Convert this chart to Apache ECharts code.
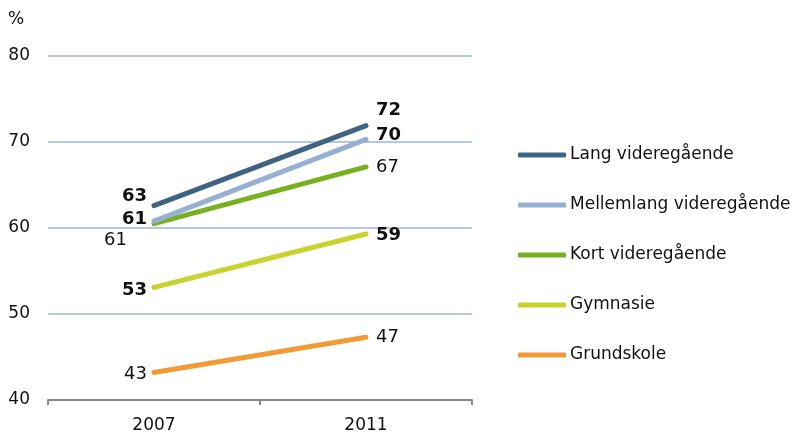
<!DOCTYPE html>
<html>
<head>
<meta charset="utf-8">
<script src="https://cdn.jsdelivr.net/npm/echarts@6/dist/echarts.min.js"></script>
<style>
  html, body { margin: 0; padding: 0; background: #fff; }
  #chart { width: 793px; height: 432px; }
</style>
</head>
<body>
<div id="chart"></div>
<script>
const years = ['2007', '2011']
const seriesNames = ['Lang videregående', 'Mellemlang videregående', 'Kort videregående', 'Gymnasie', 'Grundskole']
const lang = [62.6, 71.9]
const mellemlang = [60.8, 70.3]
const kort = [60.5, 67.1]
const gymnasie = [53.1, 59.3]
const grundskole = [43.2, 47.3]
const yTicks = [40, 50, 60, 70, 80]

const colors = ['#3f6382', '#95b0d3', '#76b21f', '#c9d32d', '#f29a35']
const bold = [true, true, false, true, false]
// label nudges so overlapping labels stay readable
const offsets = [
  [[0, -9], [0, -15]],
  [[0, -2], [0, -4]],
  [[-20, 17], [0, 0]],
  [[0, 3], [0, 1]],
  [[0, 2], [0, 0]]
]
const font = 'DejaVu Sans'

const chart = echarts.init(document.getElementById('chart'))

const allData = [lang, mellemlang, kort, gymnasie, grundskole]
const series = allData.map((vals, i) => ({
  name: seriesNames[i],
  type: 'line',
  symbol: 'circle',
  symbolSize: 2,
  showSymbol: true,
  lineStyle: { width: 5, color: colors[i], cap: 'round' },
  itemStyle: { color: colors[i] },
  z: 10 - i,
  label: { show: true },
  data: vals.map((v, j) => ({
    value: v,
    label: {
      show: true,
      position: j === 0 ? 'left' : 'right',
      distance: j === 0 ? 6 : 9,
      offset: offsets[i][j],
      formatter: p => Math.round(p.value),
      color: '#111',
      fontFamily: font,
      fontSize: 18,
      fontWeight: bold[i] ? 'bold' : 'normal'
    }
  }))
}))

chart.setOption({
  animation: false,
  color: colors,
  grid: { left: 48, right: 321, top: 56, bottom: 32, outerBoundsMode: 'none', containLabel: false },
  legend: {
    orient: 'vertical',
    left: 513,
    top: 139,
    icon: 'roundRect',
    itemWidth: 48,
    itemHeight: 5,
    itemGap: 28,
    textStyle: { fontFamily: font, fontSize: 17, color: '#111', lineHeight: 22, padding: [0, 0, 0, -1] },
    data: seriesNames
  },
  xAxis: {
    type: 'category',
    data: years,
    boundaryGap: true,
    axisLine: { lineStyle: { color: '#888', width: 2 } },
    axisTick: { show: true, length: 5, lineStyle: { color: '#888', width: 2 } },
    axisLabel: { color: '#111', fontFamily: font, fontSize: 17, margin: 17 }
  },
  yAxis: {
    type: 'value',
    name: '%',
    nameLocation: 'end',
    nameGap: 28,
    nameTextStyle: { color: '#111', fontFamily: font, fontSize: 17, align: 'left', padding: [0, 0, 0, -40] },
    min: yTicks[0],
    max: yTicks[yTicks.length - 1],
    interval: 10,
    axisLine: { show: false },
    axisTick: { show: false },
    axisLabel: { color: '#111', fontFamily: font, fontSize: 17, margin: 18 },
    splitLine: { lineStyle: { color: '#9fb5d2', width: 1.5 } }
  },
  series: series
})
</script>
</body>
</html>
